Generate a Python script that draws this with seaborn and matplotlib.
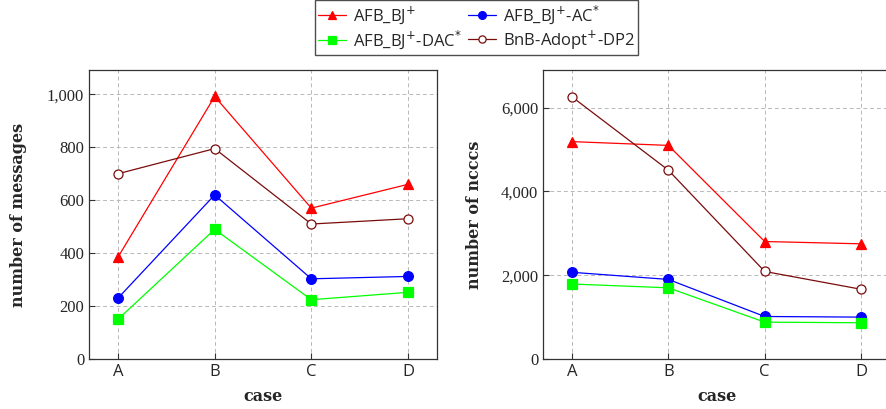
import matplotlib
matplotlib.use("Agg")
import matplotlib.pyplot as plt
import seaborn as sns
import pandas as pd
from matplotlib.ticker import FuncFormatter

cases = ["A", "B", "C", "D"]
series_names = ["AFB_BJ$^{+}$", "AFB_BJ$^{+}$-AC$^{*}$", "AFB_BJ$^{+}$-DAC$^{*}$", "BnB-Adopt$^{+}$-DP2"]

msg_afb = [385, 992, 570, 660]
msg_ac = [230, 620, 303, 312]
msg_dac = [150, 490, 224, 252]
msg_bnb = [700, 795, 510, 530]

nccc_afb = [5190, 5100, 2805, 2750]
nccc_ac = [2070, 1900, 1015, 1000]
nccc_dac = [1790, 1700, 880, 865]
nccc_bnb = [6260, 4510, 2090, 1665]

colors = ["#ff0000", "#0000ff", "#00ff00", "#7a0c0c"]
markers = ["^", "o", "s", "o"]

sns.set_style("ticks")
plt.rcParams["font.family"] = ["Liberation Serif", "DejaVu Serif"]
plt.rcParams["mathtext.fontset"] = "dejavusans"

def make_df(vals):
    rows = []
    for name, v in zip(series_names, vals):
        for c, y in zip(cases, v):
            rows.append({"case": c, "value": y, "series": name})
    return pd.DataFrame(rows)

df_msg = make_df([msg_afb, msg_ac, msg_dac, msg_bnb])
df_nccc = make_df([nccc_afb, nccc_ac, nccc_dac, nccc_bnb])

fig = plt.figure(figsize=(8.86, 4.09), dpi=100)
ax1 = fig.add_axes([89/886, 50/409, 348/886, 289/409])
ax2 = fig.add_axes([543/886, 50/409, 347/886, 289/409])

for ax, df, ylim, yticks, ylabel, lpad in [
    (ax1, df_msg, (0, 1092), [0, 200, 400, 600, 800, 1000], "number of messages", 14),
    (ax2, df_nccc, (0, 6900), [0, 2000, 4000, 6000], "number of ncccs", 13),
]:
    for i, name in enumerate(series_names):
        sub = df[df["series"] == name]
        face = "white" if i == 3 else colors[i]
        ms = 6.5 if i == 3 else (7 if markers[i] != "s" else 6.5)
        sns.lineplot(data=sub, x="case", y="value", ax=ax, color=colors[i],
                     marker=markers[i], markersize=ms, markerfacecolor=face,
                     markeredgecolor=colors[i], markeredgewidth=0.9,
                     linewidth=0.9, label=name, legend=False, zorder=3)
    ax.set_xlim(-0.3, 3.3)
    ax.set_ylim(*ylim)
    ax.set_yticks(yticks)
    ax.yaxis.set_major_formatter(FuncFormatter(lambda v, p: f"{int(v):,}"))
    ax.grid(True, color="#b8b8b8", linestyle=(0, (4, 3)), linewidth=0.7, zorder=0)
    ax.set_axisbelow(True)
    ax.tick_params(direction="in", length=4, labelsize=12, color="#333333")
    ax.set_xlabel("case", fontsize=11.5, fontweight="bold", labelpad=6,
                  fontfamily=["DejaVu Serif"])
    ax.set_ylabel(ylabel, fontsize=11.5, fontweight="bold", labelpad=lpad,
                  fontfamily=["DejaVu Serif"])
    for s in ax.spines.values():
        s.set_color("#333333")
        s.set_linewidth(0.9)
    for lbl in ax.get_xticklabels():
        lbl.set_fontfamily(["Open Sans", "DejaVu Sans"])

handles, labels = ax1.get_legend_handles_labels()
order = [0, 2, 1, 3]
leg = fig.legend([handles[i] for i in order], [labels[i] for i in order],
                 loc="upper center", bbox_to_anchor=(476.5/886, 1.0), ncol=2,
                 frameon=True, fancybox=False, edgecolor="#222222",
                 prop={"family": ["Open Sans", "DejaVu Sans"], "size": 12},
                 handlelength=1.7, columnspacing=0.4, handletextpad=0.38,
                 borderpad=0.2, borderaxespad=0, labelspacing=0.15, markerscale=0.8)
leg.get_frame().set_linewidth(1.0)

fig.savefig("out.png", dpi=100)
